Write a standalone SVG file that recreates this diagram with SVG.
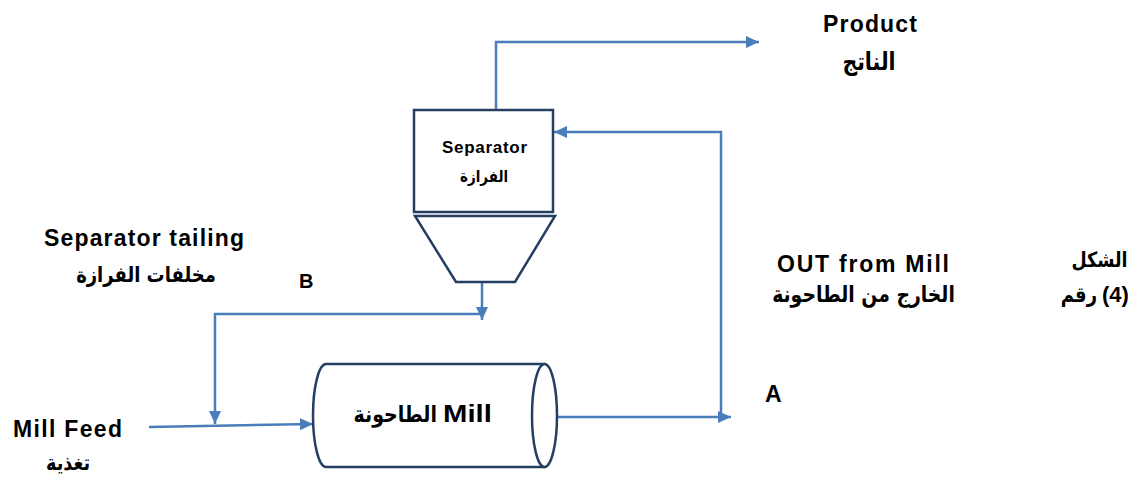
<svg xmlns="http://www.w3.org/2000/svg" width="1144" height="482" viewBox="0 0 1144 482">
<style>
.flow{fill:none;stroke:#4A7EBB;stroke-width:2.5}
.shape{fill:#ffffff;stroke:#243F60;stroke-width:2.5}
.lat{font-family:"Liberation Sans",Arial,sans-serif;font-weight:bold;fill:#000000}
.ar{font-family:"DejaVu Sans","Liberation Sans",sans-serif;font-weight:bold;fill:#000000}
</style>
<defs>
<marker id="arr" markerUnits="userSpaceOnUse" markerWidth="14" markerHeight="12" refX="13" refY="6" orient="auto">
<path d="M0,0 L13,6 L0,12 Z" fill="#4A7EBB"/>
</marker>
</defs>
<rect width="1144" height="482" fill="#ffffff"/>
<g id="connectors">
<path class="flow" d="M496,110 V42 H759" marker-end="url(#arr)"/>
<path class="flow" d="M721,417 V132 H554" marker-end="url(#arr)"/>
<path class="flow" d="M557,417 H731" marker-end="url(#arr)"/>
<path class="flow" d="M482,282 V320" marker-end="url(#arr)"/>
<path class="flow" d="M482,314 H215 V424" marker-end="url(#arr)"/>
<path class="flow" d="M149,427 L313,424" marker-end="url(#arr)"/>
</g>
<g id="separator">
<rect class="shape" x="414" y="110" width="139" height="102"/>
<polygon class="shape" points="415,216 555,216 515,282 456,282"/>
<text class="lat" x="484.5" y="153" font-size="17" text-anchor="middle" textLength="85" lengthAdjust="spacing">Separator</text>
<text class="ar" font-size="13.5" text-anchor="middle" transform="translate(484,182) scale(1,1.2)">الفرازة</text>
</g>
<g id="mill">
<path class="shape" d="M545,364 L326,364 A13,51.5 0 0 0 326,467 L545,467"/>
<ellipse class="shape" cx="544.5" cy="415.5" rx="12.5" ry="51.5"/>
<text class="ar" font-size="19" text-anchor="end" transform="translate(437,422) scale(1,1.2)">الطاحونة</text>
<text class="lat" font-size="24" transform="translate(443,422) scale(1.22,1)">Mill</text>
</g>
<g id="product">
<text class="lat" x="870" y="32" font-size="23" text-anchor="middle" textLength="94" lengthAdjust="spacing">Product</text>
<text class="ar" font-size="20.5" text-anchor="middle" transform="translate(869,70) scale(1,1.2)">الناتج</text>
</g>
<g id="tailing">
<text class="lat" x="144" y="246" font-size="23" text-anchor="middle" textLength="200" lengthAdjust="spacing">Separator tailing</text>
<text class="ar" font-size="18" text-anchor="middle" transform="translate(146,282) scale(1,1.2)">مخلفات الفرازة</text>
</g>
<g id="label-b"><text class="lat" x="299" y="288" font-size="20">B</text></g>
<g id="out-mill">
<text class="lat" x="863" y="272" font-size="23" text-anchor="middle" textLength="172" lengthAdjust="spacing">OUT from Mill</text>
<text class="ar" font-size="18.8" text-anchor="middle" transform="translate(863.5,302) scale(1,1.2)">الخارج من الطاحونة</text>
</g>
<g id="figure-label">
<text class="ar" font-size="17.5" text-anchor="middle" transform="translate(1099.5,267) scale(1,1.2)">الشكل</text>
<text class="ar" font-size="18" text-anchor="end" transform="translate(1097,302) scale(1,1.2)">رقم</text>
<text class="lat" x="1102" y="302" font-size="22">(4)</text>
</g>
<g id="label-a"><text class="lat" x="765" y="402" font-size="23">A</text></g>
<g id="feed">
<text class="lat" x="67.5" y="437" font-size="23" text-anchor="middle" textLength="109" lengthAdjust="spacing">Mill Feed</text>
<text class="ar" font-size="17.6" text-anchor="middle" transform="translate(68,470) scale(1,1.2)">تغذية</text>
</g>
</svg>
